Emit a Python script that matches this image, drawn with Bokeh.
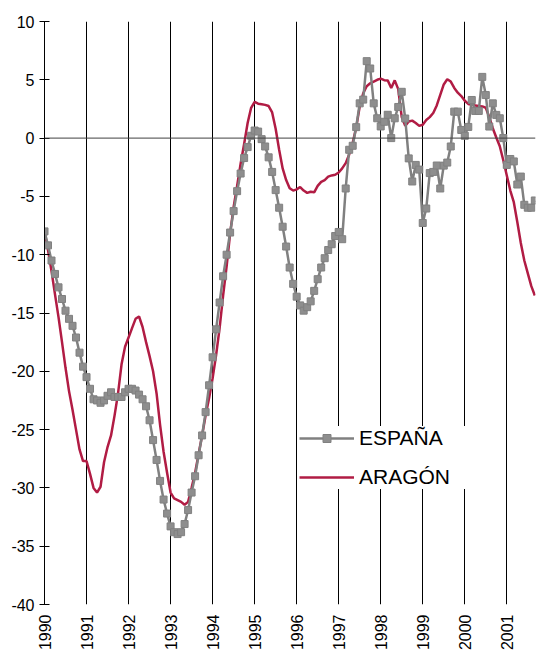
import math
from bokeh.plotting import figure
from bokeh.models import FixedTicker, Span, Legend, LegendItem, Range1d
from bokeh.embed import file_html
from bokeh.resources import INLINE

# ---- data (monthly, Jan 1990 .. Sep 2001) ----
start_year = 1990
n_months = 141
months = [start_year + i / 12 for i in range(n_months)]

espana = [
    -8.0, -9.2, -10.5, -11.65, -12.8, -13.8, -14.8, -15.5, -16.1, -17.1, -18.4, -19.6,
    -20.5, -21.5, -22.4, -22.5, -22.7, -22.5, -22.1, -21.8, -22.2, -22.2, -22.2, -21.8,
    -21.5, -21.5, -21.65, -22.0, -22.4, -23.0, -24.2, -25.9, -27.6, -29.4, -31.0, -32.2,
    -33.3, -33.8, -33.96, -33.8, -33.1, -31.9, -30.4, -29.0, -27.2, -25.5, -23.5, -21.2,
    -18.8, -16.4, -14.1, -11.85, -10.0, -8.1, -6.26, -4.55, -3.04, -1.71, -0.77, 0.2,
    0.65, 0.56, -0.09, -0.72, -1.65, -2.9, -4.46, -5.97, -7.6, -9.3, -11.1, -12.5,
    -13.6, -14.35, -14.8, -14.5, -14.0, -13.1, -12.1, -11.1, -10.3, -9.6, -9.1, -8.4,
    -8.05, -8.67, -4.32, -1.0, -0.66, 0.94, 2.98, 3.3, 6.6, 5.97, 2.98, 1.7,
    1.0, 1.4, 2.0, 0.0, 1.7, 2.67, 3.97, 1.68, -1.74, -3.72, -2.3, -2.7,
    -7.28, -6.04, -3.0, -2.9, -2.35, -4.32, -2.36, -2.1, -0.72, 2.27, 2.27, 0.7,
    0.2, 0.96, 3.27, 2.33, 2.33, 5.25, 3.69, 0.99, 2.98, 1.99, 1.7, 0.0,
    -2.3, -1.79, -2.0, -3.98, -3.3, -5.72, -5.97, -5.97, -5.35,
]

aragon = [
    -8.0, -9.6, -11.4, -13.4, -15.35, -17.5, -19.7, -21.7, -23.3, -25.0, -26.7, -27.7,
    -27.7, -28.8, -30.0, -30.4, -29.9, -27.8, -26.5, -25.5, -23.8, -21.9, -19.4, -17.9,
    -17.1, -16.3, -15.5, -15.3, -16.2, -17.5, -18.7, -20.0, -21.9, -24.6, -26.9, -28.7,
    -30.4, -30.9, -31.05, -31.2, -31.45, -31.2, -30.0, -28.7, -27.1, -25.5, -23.8, -22.3,
    -20.6, -18.6, -16.3, -13.5, -11.0, -8.2, -5.9, -4.1, -2.2, -0.5, 1.3, 2.6,
    3.1, 2.95, 2.9, 2.85, 2.75, 2.2, 0.8, -1.0, -2.6, -3.6, -4.3, -4.5,
    -4.4, -4.2, -4.5, -4.7, -4.6, -4.65, -4.1, -3.75, -3.6, -3.3, -3.2, -3.15,
    -2.95, -2.6, -2.15, -1.4, -0.4, 0.9, 2.7, 3.85, 4.45, 4.7, 4.85, 5.0,
    5.1, 4.97, 4.95, 4.3, 4.95, 4.2, 1.8, 1.05, 1.42, 1.5, 1.3, 1.05,
    1.15, 1.55, 1.8, 2.15, 2.8, 3.7, 4.6, 5.05, 4.85, 4.3, 3.9, 3.6,
    3.2, 2.93, 2.85, 2.8, 2.75, 2.72, 2.6, 1.8, 0.85, 0.05, -0.7, -1.9,
    -3.2, -4.5, -5.5, -7.2, -9.0, -10.5, -11.6, -12.7, -13.5,
]

year_ticks = list(range(1990, 2002))
year_labels = [str(y) for y in year_ticks]
y_ticks = list(range(-40, 11, 5))
y_labels = [str(v) for v in y_ticks]

series_names = ["ESPAÑA", "ARAGÓN"]

FONT = "Liberation Sans"
GREY = "#808080"
RED = "#b11c44"

p = figure(
    width=538, height=653,
    output_backend="svg", toolbar_location=None,
    x_range=Range1d(1990, 2001.683), y_range=Range1d(-40, 10),
    min_border_left=44, min_border_right=3, min_border_top=21, min_border_bottom=45,
)
p.outline_line_color = None
p.background_fill_color = "white"
p.border_fill_color = "white"

# x axis
p.xaxis.ticker = FixedTicker(ticks=year_ticks)
p.xaxis.major_label_overrides = {t: s for t, s in zip(year_ticks, year_labels)}
p.xaxis.axis_line_color = None
p.xaxis.major_tick_line_color = None
p.xaxis.minor_tick_line_color = None
p.xaxis.major_tick_out = 0
p.xaxis.major_tick_in = 0
p.xaxis.major_label_orientation = math.pi / 2
p.xaxis.major_label_standoff = 10
p.xaxis.major_label_text_font = FONT
p.xaxis.major_label_text_font_size = "16px"
p.xaxis.major_label_text_color = "black"

# y axis
p.yaxis.ticker = FixedTicker(ticks=y_ticks)
p.yaxis.major_label_overrides = {t: s for t, s in zip(y_ticks, y_labels)}
p.yaxis.axis_line_color = "black"
p.yaxis.axis_line_width = 1
p.yaxis.major_tick_line_color = "black"
p.yaxis.major_tick_out = 5
p.yaxis.major_tick_in = 5
p.yaxis.minor_tick_line_color = None
p.yaxis.major_label_standoff = 5
p.yaxis.major_label_text_font = FONT
p.yaxis.major_label_text_font_size = "16px"
p.yaxis.major_label_text_color = "black"

# grids
p.xgrid.ticker = FixedTicker(ticks=year_ticks)
p.xgrid.grid_line_color = "black"
p.xgrid.grid_line_width = 1
p.ygrid.grid_line_color = None

p.add_layout(Span(location=0, dimension="width", line_color="#404040", line_width=1))

r_ar = p.line(months, aragon, line_color=RED, line_width=2.5)
r_es_line = p.line(months, espana, line_color=GREY, line_width=2.5)
r_es_pts = p.scatter(months, espana, marker="square", size=7,
                     fill_color="#8e8e8e", line_color=GREY, line_width=1)

legend = Legend(
    items=[
        LegendItem(label=series_names[0], renderers=[r_es_line, r_es_pts]),
        LegendItem(label=series_names[1], renderers=[r_ar]),
    ],
    location=(255, 115),
    label_text_font=FONT, label_text_font_size="21px", label_text_color="black",
    glyph_width=55, glyph_height=20, label_height=20, label_width=120,
    spacing=15, padding=10, margin=0, label_standoff=5,
    background_fill_color="white", background_fill_alpha=1.0,
    border_line_color=None,
)
p.add_layout(legend)

open("out.html", "w").write(file_html(p, INLINE))
